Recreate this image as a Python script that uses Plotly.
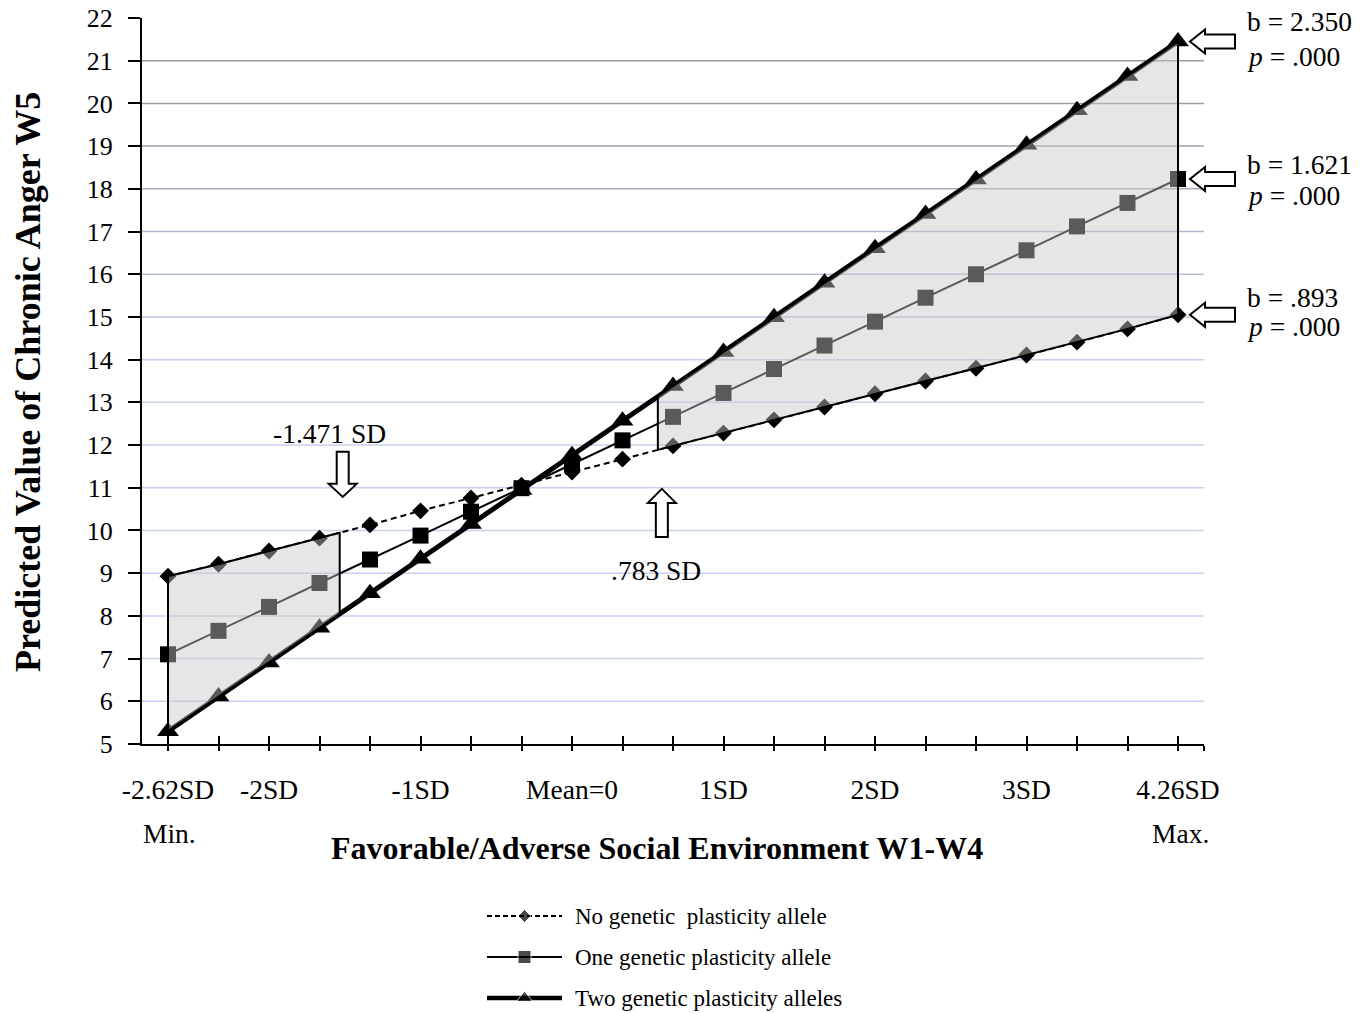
import numpy as np
import plotly.graph_objects as go

W, H = 1364, 1013

# ---------------- data ----------------
steps = list(range(21))
tick_pos = [0, 2, 5, 8, 11, 14, 17, 20]
tick_text = ["-2.62SD", "-2SD", "-1SD", "Mean=0", "1SD", "2SD", "3SD", "4.26SD"]

no_allele = [8.93, 9.21, 9.52, 9.82, 10.13, 10.46, 10.76, 11.06, 11.37, 11.67, 11.98,
             12.28, 12.59, 12.89, 13.20, 13.50, 13.80, 14.11, 14.41, 14.72, 15.05]
one_allele = [7.10, 7.65, 8.21, 8.77, 9.32, 9.88, 10.44, 10.99, 11.55, 12.11, 12.66,
              13.22, 13.78, 14.33, 14.89, 15.45, 16.00, 16.56, 17.12, 17.67, 18.23]
two_alleles = [5.30, 6.11, 6.91, 7.72, 8.53, 9.34, 10.15, 10.95, 11.76, 12.57, 13.38,
               14.18, 14.99, 15.80, 16.61, 17.41, 18.22, 19.03, 19.84, 20.64, 21.45]

series_names = ["No genetic  plasticity allele", "One genetic plasticity allele",
                "Two genetic plasticity alleles"]
region_left = [0, 3.4]      # shaded region, in step units
region_right = [9.7, 20]
cross_labels = ["-1.471 SD", ".783 SD"]
slope_labels = ["b = .893", "b = 1.621", "b = 2.350"]
p_labels = ["<i>p</i> = .000", "<i>p</i> = .000", "<i>p</i> = .000"]

# ---------------- layout helpers ----------------
SERIF = "Liberation Serif, Times New Roman, serif"
X0, X1, YT, YB = 142, 1204, 18, 744
Y_RANGE = [5, 22]


def px(x):
    return x / W


def py(y):
    return 1 - y / H


x_range = [-(168 - X0) / 50.5, 20 + (X1 - 1178) / 50.5]


def xdata_to_paper(v):
    return px(X0) + (v - x_range[0]) / (x_range[1] - x_range[0]) * (px(X1) - px(X0))


def ydata_to_paper(v):
    return py(YB) + (v - Y_RANGE[0]) / (Y_RANGE[1] - Y_RANGE[0]) * (py(YT) - py(YB))


fig = go.Figure()

styles = [
    dict(line=dict(color="black", width=2, dash="6px,4px"), marker=dict(symbol="diamond", size=13, color="black")),
    dict(line=dict(color="black", width=2), marker=dict(symbol="square", size=16, color="black")),
    dict(line=dict(color="black", width=5), marker=dict(symbol="triangle-up", size=19, color="black")),
]
series = [no_allele, one_allele, two_alleles]
for vals, st, nm in zip(series, styles, series_names):
    fig.add_trace(go.Scatter(x=steps, y=vals, mode="lines+markers", name=nm,
                             line=st["line"], marker=st["marker"], showlegend=False,
                             xaxis="x", yaxis="y"))


def region_poly(x0, x1):
    xs = np.array(steps, dtype=float)
    inner = xs[(xs > x0) & (xs < x1)]
    top_x = np.concatenate([[x0], inner, [x1]])
    hi = np.interp(top_x, xs, two_alleles)
    lo = np.interp(top_x, xs, no_allele)
    px_ = np.concatenate([top_x, top_x[::-1], [top_x[0]]])
    py_ = np.concatenate([lo, hi[::-1], [lo[0]]])
    return px_, py_


for (a, b) in [region_left, region_right]:
    rx, ry = region_poly(a, b)
    fig.add_trace(go.Scatter(x=rx, y=ry, mode="lines", fill="toself",
                             fillcolor="rgba(199,199,199,0.45)",
                             line=dict(color="black", width=2), showlegend=False,
                             hoverinfo="skip", xaxis="x", yaxis="y"))

# ---------------- legend (drawn manually) ----------------
leg_rows = [1, 2, 3]
leg_top_pix, leg_row_gap = 916, 41
leg_dom = [0.0, 0.12]
rng_top = 1 - (leg_top_pix - (1 - leg_dom[1]) * H) / leg_row_gap
rng_bot = 1 + (H * (1 - leg_dom[0]) - leg_top_pix) / leg_row_gap
leg_styles = [
    (dict(color="black", width=2, dash="5px,3px"), "diamond", 10),
    (dict(color="black", width=2), "square", 13),
    (dict(color="black", width=4.5), "triangle-up", 14),
]
for row, (ln, sym, sz) in zip(leg_rows, leg_styles):
    fig.add_trace(go.Scatter(x=[0, 0.5, 1], y=[row] * 3, mode="lines+markers",
                             line=ln,
                             marker=dict(symbol=sym, size=[0, sz, 0], color="black"),
                             showlegend=False, hoverinfo="skip", xaxis="x3", yaxis="y3"))
for row, nm in zip(leg_rows, series_names):
    fig.add_annotation(x=px(573), y=py(leg_top_pix + (row - 1) * leg_row_gap),
                       xref="paper", yref="paper", text=nm, showarrow=False,
                       xanchor="left", yanchor="middle",
                       font=dict(family=SERIF, size=23, color="black"))

# ---------------- gridlines ----------------
grid_colors = {21: "#959aa2", 20: "#989ea7", 19: "#9ca3ae", 18: "#a6afc0", 17: "#adb7ca",
               16: "#b5c0d8", 15: "#bcc7e0"}
for v in range(6, 22):
    fig.add_shape(type="line", xref="x domain", yref="y", x0=0, x1=1, y0=v, y1=v,
                  line=dict(color=grid_colors.get(v, "#c7d1ee"), width=1.5), layer="below")

# ---------------- block arrows ----------------
def arrow_shape(xa, ya, path):
    fig.add_shape(type="path", xref="paper", yref="paper", xsizemode="pixel", ysizemode="pixel",
                  xanchor=xdata_to_paper(xa), yanchor=ydata_to_paper(ya), path=path,
                  line=dict(color="black", width=2), fillcolor="white", layer="above")


# left pointing arrows at the max end of each line
for vals in series:
    tip = 12
    path = (f"M{tip},0 L{tip+15},12 L{tip+15},7 L{tip+45},7 L{tip+45},-7 "
            f"L{tip+15},-7 L{tip+15},-12 Z")
    arrow_shape(20, vals[-1], path)

# down arrow at region boundary (-1.471 SD)
yl = float(np.interp(region_left[1], steps, no_allele))
down = "M3,36 L-11,49 L-3,49 L-3,81 L9,81 L9,49 L17,49 Z"
arrow_shape(region_left[1], yl, down)
# up arrow at region boundary (.783 SD)
yr = float(np.interp(region_right[0], steps, no_allele))
up = "M4,-39 L-10,-53 L-2,-53 L-2,-87 L10,-87 L10,-53 L18,-53 Z"
arrow_shape(region_right[0], yr, up)

# ---------------- texts ----------------
txt_font = dict(family=SERIF, size=27.5, color="black")


def add_text(xpix, ypix, text, font=txt_font, xanchor="center", **kw):
    fig.add_annotation(x=px(xpix), y=py(ypix), xref="paper", yref="paper", text=text,
                       showarrow=False, xanchor=xanchor, yanchor="middle", font=font, **kw)


add_text(329, 433, cross_labels[0])
add_text(656, 570, cross_labels[1])
b_y = [298, 165, 22]
p_y = [326, 196, 56]
for lab, pl, by, pyy in zip(slope_labels, p_labels, b_y, p_y):
    add_text(1245, by, lab, xanchor="left")
    add_text(1245, pyy, pl, xanchor="left")

add_text(169, 833, "Min.")
add_text(1180, 833, "Max.")
add_text(657, 848, "<b>Favorable/Adverse Social Environment W1-W4</b>",
         font=dict(family=SERIF, size=32, color="black"))
add_text(28, 382, "<b>Predicted Value of Chronic Anger W5</b>",
         font=dict(family=SERIF, size=36, color="black"), textangle=-90)

# ---------------- axes ----------------
all_ticks = steps + [x_range[1]]
labels_map = dict(zip(tick_pos, tick_text))
all_text = [labels_map.get(t, "") for t in steps] + [""]

fig.update_layout(
    width=W, height=H,
    margin=dict(l=0, r=0, t=0, b=0, pad=0, autoexpand=False),
    paper_bgcolor="white", plot_bgcolor="white",
    showlegend=False,
    xaxis=dict(domain=[px(X0), px(X1)], range=x_range, tickmode="array",
               tickvals=all_ticks, ticktext=all_text, ticks="outside", ticklen=5,
               tickwidth=2, tickcolor="black", showline=True, linecolor="black",
               linewidth=2, showgrid=False, zeroline=False, ticklabelstandoff=15,
               automargin=False,
               tickfont=dict(family=SERIF, size=27.5, color="black"), anchor="y"),
    xaxis2=dict(overlaying="x", matches="x", range=x_range, tickmode="array",
                tickvals=all_ticks, ticks="inside", ticklen=8, tickwidth=2,
                tickcolor="black", showticklabels=False, showgrid=False, automargin=False,
                zeroline=False, showline=False, anchor="y", side="bottom"),
    yaxis=dict(domain=[py(YB), py(YT)], range=Y_RANGE, dtick=1, tick0=5,
               ticks="outside", ticklen=12, tickwidth=2, tickcolor="black",
               showline=True, linecolor="black", linewidth=2, showgrid=False,
               zeroline=False, ticklabelstandoff=10, automargin=False,
               tickfont=dict(family=SERIF, size=26, color="black"), anchor="x"),
    xaxis3=dict(domain=[px(487), px(562)], range=[0, 1], visible=False, anchor="y3",
                automargin=False),
    yaxis3=dict(domain=leg_dom, range=[rng_bot, rng_top], visible=False, anchor="x3",
                automargin=False),
)
# dummy trace so xaxis2 is rendered
fig.add_trace(go.Scatter(x=[0], y=[5], mode="markers", marker=dict(opacity=0),
                         showlegend=False, hoverinfo="skip", xaxis="x2", yaxis="y"))

fig.write_html("out.html", config={"displayModeBar": False},
               post_script="document.body.style.margin='0';document.body.style.overflow='hidden';")
